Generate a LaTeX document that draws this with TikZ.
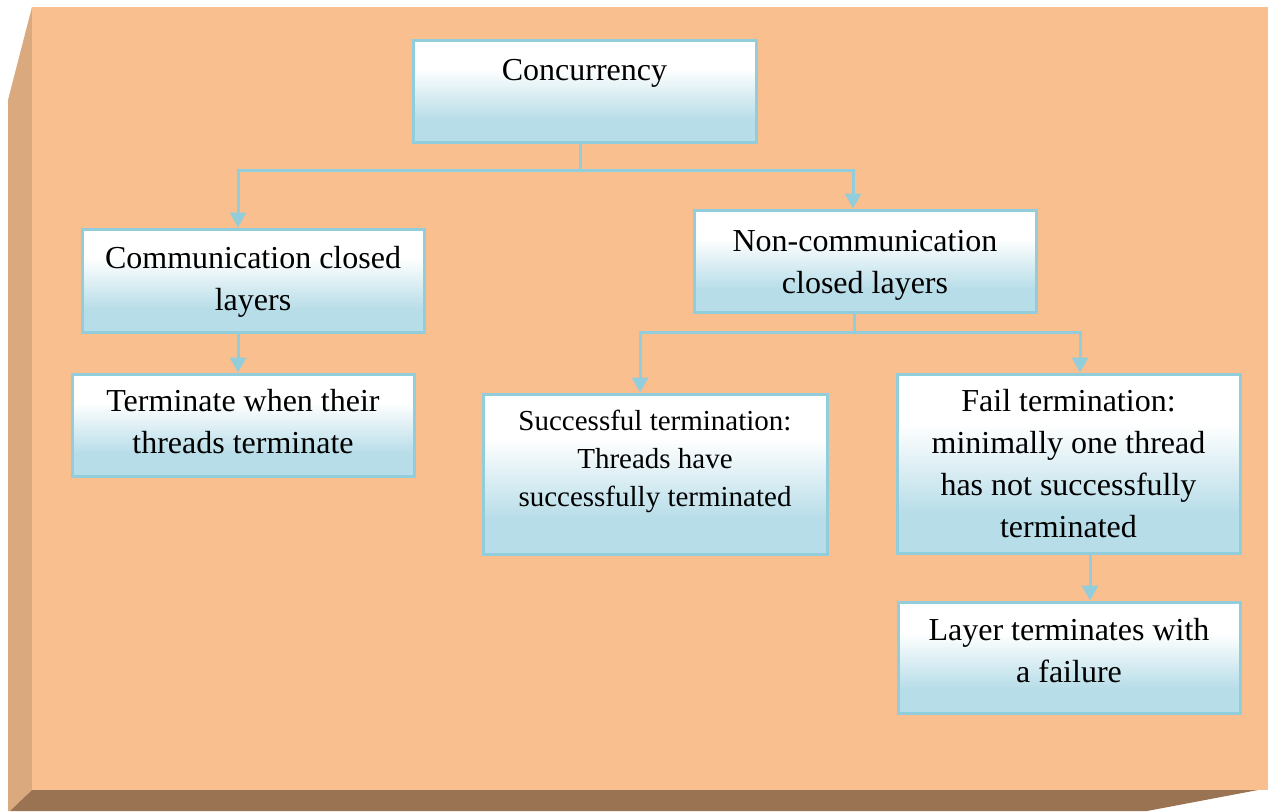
\documentclass[tikz,border=0pt]{standalone}
\usepackage{fontspec}
\setmainfont{Liberation Serif}
\usetikzlibrary{arrows.meta,calc,fit}

\definecolor{faceFront}{HTML}{F9BF8F}
\definecolor{faceLeft}{HTML}{DBA97E}
\definecolor{faceBottom}{HTML}{9A7352}
\definecolor{boxLine}{HTML}{92CDDC}
\definecolor{boxFill}{HTML}{B7DDE8}

\tikzset{
  % white upper part, a soft blend, light blue lower part
  box/.style={draw=boxLine, line width=1.5pt, fill=boxFill, inner sep=0pt,
    path picture={
      \coordinate (pnw) at (path picture bounding box.north west);
      \coordinate (pne) at (path picture bounding box.north east);
      \coordinate (psw) at (path picture bounding box.south west);
      \coordinate (pse) at (path picture bounding box.south east);
      \fill[white] (pnw) rectangle ($(pne)!0.29!(pse)$);
      \shade[top color=white, bottom color=boxFill]
        ($(pnw)!0.28!(psw)$) rectangle ($(pne)!0.78!(pse)$);
    }},
  txt/.style={inner sep=0pt, anchor=base, font=\fontsize{16pt}{21pt}\selectfont},
  smalltxt/.style={txt, font=\fontsize{14.5pt}{19pt}\selectfont},
  conn/.style={draw=boxLine, line width=1.5pt},
  arr/.style={conn, -{Triangle[width=8pt,length=7.5pt]}}
}

\begin{document}
\begin{tikzpicture}[x=0.5pt, y=-0.5pt]
\useasboundingbox (0,0) rectangle (1271,811);

% bevelled backdrop
\fill[faceLeft] (8,100) -- (32,7) -- (32,790) -- (10,811) -- (8,811) -- cycle;
\fill[faceBottom] (32,790) -- (1258,790) -- (1147,811) -- (10,811) -- cycle;
\fill[faceFront] (32,7) rectangle (1268,790);

% boxes
\node[box, fit={(413,40) (756,142)}] (conc) {};
\node[box, fit={(82,229) (424,332)}] (comm) {};
\node[box, fit={(72,374) (414,476)}] (term) {};
\node[box, fit={(694,210) (1036,312)}] (ncomm) {};
\node[box, fit={(483,394) (827,554)}] (succ) {};
\node[box, fit={(897,374) (1240,553)}] (fail) {};
\node[box, fit={(898,602) (1240,713)}] (layer) {};

% texts
\node[txt] (conc-t) at ($(conc.north)+(0,42)$) {Concurrency};
\node[txt] (comm-t) at ($(comm.north)+(0,41)$)
  {\begin{tabular}[t]{@{}c@{}}Communication closed\\layers\end{tabular}};
\node[txt] (term-t) at ($(term.north)+(0,39)$)
  {\begin{tabular}[t]{@{}c@{}}Terminate when their\\threads terminate\end{tabular}};
\node[txt] (ncomm-t) at ($(ncomm.north)+(0,43)$)
  {\begin{tabular}[t]{@{}c@{}}Non-communication\\closed layers\end{tabular}};
\node[smalltxt] (succ-t) at ($(succ.north)+(0,38)$)
  {\begin{tabular}[t]{@{}c@{}}Successful termination:\\Threads have\\successfully terminated\end{tabular}};
\node[txt] (fail-t) at ($(fail.north)+(0,39)$)
  {\begin{tabular}[t]{@{}c@{}}Fail termination:\\minimally one thread\\has not successfully\\terminated\end{tabular}};
\node[txt] (layer-t) at ($(layer.north)+(0,40)$)
  {\begin{tabular}[t]{@{}c@{}}Layer terminates with\\a failure\end{tabular}};

% connectors
\coordinate (j1) at (580,170);
\coordinate (a1) at (238,170);
\coordinate (a2) at (853,170);
\draw[conn] (conc.south -| j1) -- (j1);
\draw[arr] (j1) -- (a1) -- (a1 |- comm.north);
\draw[arr] (j1) -- (a2) -- (a2 |- ncomm.north);
\draw[arr] (a1 |- comm.south) -- (a1 |- term.north);

\coordinate (j2) at (854,332);
\coordinate (a3) at (640,332);
\coordinate (a4) at (1080,332);
\draw[conn] (ncomm.south -| j2) -- (j2);
\draw[arr] (j2) -- (a3) -- (a3 |- succ.north);
\draw[arr] (j2) -- (a4) -- (a4 |- fail.north);

\coordinate (a5) at (1090,560);
\draw[arr] (a5 |- fail.south) -- (a5 |- layer.north);
\end{tikzpicture}
\end{document}
